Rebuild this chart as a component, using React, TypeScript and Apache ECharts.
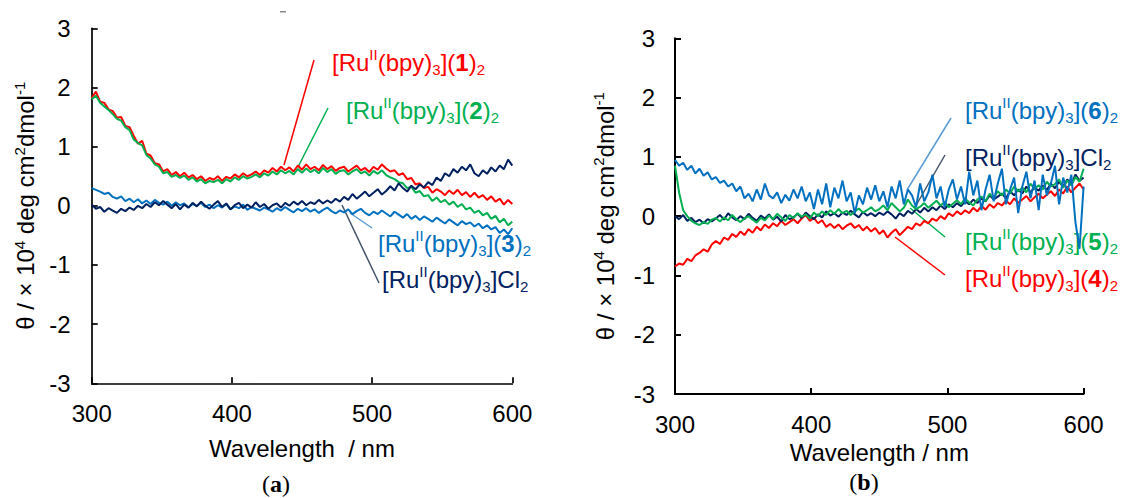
import React, { useEffect, useRef } from "react";
import * as echarts from "echarts";

// Wavelength grid (nm)
const wavelengths = [
  300, 303, 306, 309, 312, 315, 318, 321, 324, 327,
  330, 333, 336, 339, 342, 345, 348, 351, 354, 357,
  360, 363, 366, 369, 372, 375, 378, 381, 384, 387,
  390, 393, 396, 399, 402, 405, 408, 411, 414, 417,
  420, 423, 426, 429, 432, 435, 438, 441, 444, 447,
  450, 453, 456, 459, 462, 465, 468, 471, 474, 477,
  480, 483, 486, 489, 492, 495, 498, 501, 504, 507,
  510, 513, 516, 519, 522, 525, 528, 531, 534, 537,
  540, 543, 546, 549, 552, 555, 558, 561, 564, 567,
  570, 573, 576, 579, 582, 585, 588, 591, 594, 597,
  600,
];

// Panel (a)
const a_Ru1 = [
  1.82, 1.93, 1.76, 1.74, 1.63, 1.6, 1.49, 1.5, 1.35, 1.33,
  1.18, 1.05, 1.1, 0.88, 0.85, 0.72, 0.7, 0.58, 0.62, 0.52,
  0.57, 0.5, 0.56, 0.48, 0.52, 0.45, 0.5, 0.42, 0.47, 0.44,
  0.5, 0.42, 0.49, 0.46, 0.53, 0.48, 0.55, 0.5, 0.53, 0.58,
  0.52, 0.6, 0.56, 0.64, 0.58, 0.66, 0.6, 0.65, 0.58, 0.68,
  0.61, 0.7, 0.62, 0.66, 0.6, 0.69, 0.62, 0.67, 0.59, 0.64,
  0.66, 0.58, 0.63, 0.68, 0.6, 0.64, 0.57, 0.66, 0.61, 0.7,
  0.63, 0.58, 0.6, 0.52, 0.55, 0.45, 0.47, 0.36, 0.38, 0.3,
  0.32, 0.22, 0.28, 0.24, 0.18, 0.26, 0.2, 0.27, 0.18, 0.23,
  0.15, 0.22, 0.14, 0.18, 0.1, 0.16, 0.07, 0.12, 0.02, 0.1,
  0.03,
];
const a_Ru2 = [
  1.8, 1.86, 1.74, 1.68, 1.62, 1.55, 1.47, 1.44, 1.33, 1.28,
  1.12, 1.06, 1.02, 0.86, 0.8, 0.7, 0.66, 0.55, 0.57, 0.49,
  0.52, 0.47, 0.51, 0.44, 0.48, 0.41, 0.45, 0.38, 0.42, 0.4,
  0.44, 0.38, 0.45, 0.41, 0.48, 0.44, 0.5, 0.46, 0.49, 0.53,
  0.48, 0.55, 0.51, 0.58, 0.53, 0.6, 0.55, 0.59, 0.53, 0.62,
  0.56, 0.63, 0.57, 0.61, 0.55, 0.64, 0.57, 0.62, 0.54, 0.59,
  0.6, 0.53, 0.58, 0.62, 0.55, 0.58, 0.51, 0.59, 0.54, 0.6,
  0.52, 0.48, 0.45, 0.4, 0.38, 0.3, 0.32, 0.22, 0.25, 0.16,
  0.18, 0.08, 0.14, 0.06, 0.1, 0.02, 0.07, -0.02, 0.03, -0.06,
  -0.03, -0.12, -0.08, -0.16, -0.12, -0.22, -0.17, -0.28, -0.22, -0.33,
  -0.27,
];
const a_Ru3 = [
  0.3, 0.27, 0.24, 0.2, 0.22, 0.15, 0.12, 0.16, 0.08, 0.12,
  0.06, 0.11, 0.04, 0.09, 0.03, 0.1, 0.05, 0.02, 0.07, 0.0,
  0.06, 0.01, 0.04, -0.03, 0.03, 0.0, 0.05, -0.02, 0.02, -0.04,
  0.01, -0.03, 0.03, -0.06, -0.01, -0.04, 0.02, -0.07, -0.02, -0.05,
  -0.08, -0.03, -0.06, -0.1, -0.04, -0.08, -0.02, -0.07, -0.11, -0.05,
  -0.09, -0.04, -0.1, -0.06, -0.12, -0.07, -0.03, -0.09, -0.13, -0.08,
  -0.11, -0.06, -0.14, -0.09, -0.05, -0.12, -0.16, -0.1, -0.14, -0.08,
  -0.13, -0.18, -0.1, -0.15, -0.2, -0.14, -0.22, -0.17, -0.24, -0.18,
  -0.22, -0.27, -0.2, -0.25, -0.3, -0.23, -0.28, -0.33, -0.26, -0.31,
  -0.28, -0.35, -0.3, -0.38, -0.33, -0.4, -0.36, -0.46, -0.4, -0.48,
  -0.38,
];
const a_RuCl2 = [
  0.02, -0.05, -0.02, -0.1, -0.04, -0.08, -0.12, -0.05, -0.09, -0.03,
  -0.07, 0.0, -0.04, 0.03, -0.02, 0.06, 0.01, 0.08, 0.02, -0.04,
  0.03, -0.06, 0.02, -0.03, 0.05, -0.01, 0.07, 0.0, -0.05, 0.02,
  0.08, -0.02, 0.04, -0.06, 0.01, 0.05, -0.04, 0.02, -0.03, 0.06,
  -0.02, 0.03, -0.05, 0.01, 0.04, -0.03, 0.05, 0.0, 0.07, 0.02,
  0.08, 0.01, 0.06, 0.03, 0.1, 0.04, 0.09, 0.05, 0.12, 0.07,
  0.15, 0.1, 0.2, 0.12, 0.18, 0.24, 0.16, 0.22, 0.28, 0.19,
  0.25, 0.33, 0.26, 0.38, 0.3, 0.24, 0.34, 0.28, 0.36, 0.31,
  0.4, 0.35, 0.48, 0.42, 0.55, 0.5, 0.62, 0.56, 0.66, 0.6,
  0.7, 0.55, 0.5, 0.6, 0.54, 0.65, 0.58, 0.68, 0.62, 0.78,
  0.68,
];

// Panel (b)
const b_Ru4 = [
  -0.85, -0.8, -0.82, -0.72, -0.76, -0.66, -0.62, -0.56, -0.6, -0.48,
  -0.42, -0.47, -0.36, -0.4, -0.3, -0.35, -0.26, -0.32, -0.22, -0.28,
  -0.18, -0.24, -0.14, -0.2, -0.12, -0.17, -0.08, -0.15, -0.1, -0.05,
  -0.12, -0.04, 0.02, -0.08, -0.03, -0.12, -0.07, -0.18, -0.13, -0.2,
  -0.14, -0.22, -0.16, -0.12, -0.2, -0.15, -0.24, -0.18, -0.26, -0.2,
  -0.3, -0.24, -0.36, -0.28, -0.22, -0.32, -0.25, -0.18, -0.22, -0.12,
  -0.16, -0.08, -0.12, -0.04, -0.08, 0.0, -0.05, 0.05, 0.0, 0.08,
  0.03, 0.1, 0.05, 0.14, 0.08, 0.17, 0.11, 0.2, 0.14, 0.22,
  0.18, 0.26, 0.2, 0.3, 0.22, 0.28, 0.34, 0.25, 0.32, 0.38,
  0.3, 0.36, 0.42, 0.34, 0.45, 0.38, 0.5, 0.4, 0.48, 0.55,
  0.45,
];
const b_Ru5 = [
  0.85, 0.4, 0.1, 0.0, -0.08, -0.12, -0.15, -0.1, -0.13, -0.06,
  -0.03, -0.09, -0.02, -0.07, 0.02, -0.05, -0.1, -0.04, 0.0, -0.06,
  -0.11, -0.03, -0.07, 0.01, -0.05, 0.04, -0.02, -0.08, 0.02, -0.03,
  0.05, -0.01, 0.03, -0.04, 0.06, 0.0, 0.08, 0.02, 0.1, 0.04,
  0.12, 0.05, 0.09, 0.02, 0.08, 0.13, 0.06, 0.1, 0.15, 0.08,
  0.12, 0.18, 0.1, 0.22, 0.15, 0.08, 0.14, 0.28, 0.18, 0.12,
  0.16, 0.22, 0.14, 0.2, 0.26, 0.18, 0.24, 0.15, 0.21, 0.27,
  0.2, 0.3, 0.23, 0.18, 0.28, 0.33, 0.25, 0.38, 0.3, 0.42,
  0.35, 0.45, 0.38, 0.5, 0.42, 0.48, 0.4, 0.55, 0.46, 0.52,
  0.45, 0.58, 0.5, 0.54, 0.62, 0.48, 0.6, 0.52, 0.66, 0.58,
  0.8,
];
const b_Ru6 = [
  0.95, 0.85, 0.9, 0.78, 0.85, 0.72, 0.8, 0.68, 0.74, 0.62,
  0.66, 0.56, 0.6, 0.5, 0.55, 0.42, 0.5, 0.3, 0.38, 0.25,
  0.45, 0.28, 0.55, 0.35, 0.3, 0.4, 0.22, 0.36, 0.26, 0.45,
  0.3, 0.5, 0.25, 0.4, 0.12, 0.45, 0.2, 0.55, 0.15, 0.48,
  0.3, 0.6, 0.25, 0.4, 0.05, 0.35, 0.2, 0.48, 0.28, 0.52,
  0.25, 0.42, 0.15, 0.5, 0.3, 0.6, 0.2, 0.45, 0.35, 0.15,
  0.55, 0.25, 0.4, 0.7, 0.3, 0.5, 0.15, 0.45, 0.62, 0.28,
  0.5, 0.2, 0.75, 0.35, 0.6, 0.1, 0.45, 0.7, 0.25, 0.55,
  0.8, 0.2, 0.45, 0.65, 0.05, 0.5, 0.75, 0.3, 0.6, 0.1,
  0.7, 0.35, 0.55, 0.85, 0.2, 0.65, 0.4, 0.7, -0.1, -0.55,
  0.5,
];
const b_RuCl2 = [
  0.0, -0.05, 0.02, -0.08, -0.03, -0.1, -0.06, -0.12, -0.05, -0.09,
  -0.04, 0.02, -0.06, 0.05, -0.02, -0.07, 0.0, -0.05, 0.04, -0.03,
  -0.08, 0.01, -0.04, 0.03, -0.06, -0.01, -0.09, 0.02, -0.05, -0.02,
  0.04, -0.03, 0.06, 0.0, -0.05, 0.03, -0.02, 0.08, 0.01, 0.05,
  -0.01, 0.06, 0.02, 0.09, 0.03, -0.02, 0.07, 0.01, 0.05, 0.0,
  0.06, 0.02, 0.08, 0.03, -0.04, 0.05, 0.0, 0.09, 0.04, 0.12,
  0.06, 0.14, 0.08, 0.15, 0.1, 0.18, 0.12, 0.2, 0.15, 0.22,
  0.17, 0.25, 0.2, 0.28, 0.22, 0.3, 0.25, 0.35, 0.28, 0.33,
  0.38, 0.3, 0.42, 0.35, 0.45, 0.38, 0.5, 0.4, 0.48, 0.43,
  0.52, 0.44, 0.55, 0.47, 0.58, 0.5, 0.62, 0.53, 0.7, 0.6,
  0.65,
];

const xRange = [300, 600];
const yRange = [-3, 3];

const RED = "#FF0000";
const GREEN = "#00B050";
const BLUE = "#0070C0";
const NAVY = "#002060";
const SANS = "'Liberation Sans', Arial, sans-serif";
const SERIF = "'Liberation Serif', 'Times New Roman', serif";

function ruText(num: string | null): string {
  const head = "{n|[Ru}{sup|II}{n|(bpy)}{sub|3}";
  if (num === null) return head + "{n|]Cl}{sub|2}";
  return head + "{n|](}{b|" + num + "}{n|)}{sub|2}";
}

function richFor(color: string) {
  return {
    n: { fontSize: 24, fontFamily: SANS, fill: color, lineHeight: 30 },
    b: { fontSize: 24, fontFamily: SANS, fontWeight: "bold", fill: color, lineHeight: 30 },
    sup: { fontSize: 15, fontFamily: SANS, fill: color, verticalAlign: "top", lineHeight: 15 },
    sub: { fontSize: 15, fontFamily: SANS, fill: color, verticalAlign: "bottom", lineHeight: 15 },
  };
}

function label(x: number, y: number, num: string | null, color: string) {
  return {
    type: "text",
    x,
    y,
    silent: true,
    style: {
      text: ruText(num),
      rich: richFor(color),
      fill: color,
      align: "left",
      verticalAlign: "middle",
    },
  };
}

function leader(x1: number, y1: number, x2: number, y2: number, color: string) {
  return {
    type: "line",
    silent: true,
    shape: { x1, y1, x2, y2 },
    style: { stroke: color, lineWidth: 1.5 },
  };
}

const yNameRich = {
  n: { fontSize: 24, fontFamily: SANS, color: "#000", lineHeight: 28 },
  sup: { fontSize: 15, fontFamily: SANS, color: "#000", verticalAlign: "top", lineHeight: 15 },
};
const yNameText = "{n|θ / × 10}{sup|4}{n| deg cm}{sup|2}{n|dmol}{sup|-1}";

function xAxisOf(idx: number, name: string, nameGap: number, lw: number) {
  return {
    type: "value",
    gridIndex: idx,
    min: xRange[0],
    max: xRange[1],
    interval: 100,
    name,
    nameLocation: "middle",
    nameGap,
    nameTextStyle: { fontSize: 24, fontFamily: SANS, color: "#000" },
    axisLine: { show: true, onZero: false, lineStyle: { color: "#000", width: lw } },
    axisTick: { show: true, inside: true, length: 6, lineStyle: { color: "#000", width: lw } },
    axisLabel: { fontSize: 24, fontFamily: SANS, color: "#000", margin: 18, showMinLabel: true, showMaxLabel: true },
    splitLine: { show: false },
  };
}

function yAxisOf(idx: number, nameGap: number, margin: number, lw: number) {
  return {
    type: "value",
    gridIndex: idx,
    min: yRange[0],
    max: yRange[1],
    interval: 1,
    name: yNameText,
    nameLocation: "middle",
    nameRotate: 90,
    nameGap,
    nameTextStyle: { rich: yNameRich },
    axisLine: { show: true, onZero: false, lineStyle: { color: "#000", width: lw } },
    axisTick: { show: true, inside: true, length: 6, lineStyle: { color: "#000", width: lw } },
    axisLabel: { fontSize: 24, fontFamily: SANS, color: "#000", margin, showMinLabel: true, showMaxLabel: true },
    splitLine: { show: false },
  };
}

function lineSeries(name: string, values: number[], color: string, idx: number) {
  return {
    type: "line",
    name,
    xAxisIndex: idx,
    yAxisIndex: idx,
    data: wavelengths.map((w, i) => [w, values[i]]),
    showSymbol: false,
    symbol: "none",
    silent: true,
    lineStyle: { color, width: 2 },
    itemStyle: { color },
  };
}

export default function App() {
  const ref = useRef<HTMLDivElement>(null);
  useEffect(() => {
    if (!ref.current) return;
    const chart = echarts.init(ref.current, undefined, { renderer: "svg" });
    const option: any = {
      animation: false,
      backgroundColor: "#fff",
      textStyle: { fontFamily: SANS },
      grid: [
        { left: 91.7, top: 28.3, width: 420.6, height: 355, outerBoundsMode: "none" },
        { left: 675, top: 38.3, width: 408.6, height: 355.7, outerBoundsMode: "none" },
      ],
      xAxis: [
        xAxisOf(0, "Wavelength  / nm", 53, 1.7),
        xAxisOf(1, "Wavelength / nm", 41, 2),
      ],
      yAxis: [yAxisOf(0, 52, 21, 1.7), yAxisOf(1, 56, 20, 2)],
      series: [
        lineSeries("[RuII(bpy)3](1)2", a_Ru1, RED, 0),
        lineSeries("[RuII(bpy)3](2)2", a_Ru2, GREEN, 0),
        lineSeries("[RuII(bpy)3](3)2", a_Ru3, BLUE, 0),
        lineSeries("[RuII(bpy)3]Cl2", a_RuCl2, NAVY, 0),
        lineSeries("[RuII(bpy)3](4)2", b_Ru4, RED, 1),
        lineSeries("[RuII(bpy)3]Cl2", b_RuCl2, NAVY, 1),
        lineSeries("[RuII(bpy)3](5)2", b_Ru5, GREEN, 1),
        lineSeries("[RuII(bpy)3](6)2", b_Ru6, BLUE, 1),
      ],
      graphic: [
        { type: "rect", silent: true, shape: { x: 280, y: 11, width: 6, height: 1.5 }, style: { fill: "#888" } },
        // panel (a) annotations
        leader(314, 60, 284, 165, RED),
        leader(328, 108, 298, 167, GREEN),
        leader(350, 213, 372, 228, "#5B9BD5"),
        leader(342, 205, 379, 283, "#44546A"),
        label(332, 62, "1", RED),
        label(346, 110, "2", GREEN),
        label(378, 243, "3", BLUE),
        label(382, 279, null, NAVY),
        // panel (b) annotations
        leader(951, 118, 907, 190, "#5B9BD5"),
        leader(945, 155, 914.5, 208, "#44546A"),
        leader(910, 208, 945, 237, GREEN),
        leader(895, 237, 945, 275, RED),
        label(965, 110, "6", BLUE),
        label(965, 157, null, NAVY),
        label(965, 241, "5", GREEN),
        label(965, 278, "4", RED),
        // panel captions
        {
          type: "text",
          x: 276,
          y: 484,
          silent: true,
          style: {
            text: "{p|(}{a|a}{p|)}",
            rich: {
              p: { fontSize: 24, fontFamily: SERIF, fill: "#000" },
              a: { fontSize: 24, fontFamily: SERIF, fontWeight: "bold", fill: "#000" },
            },
            align: "center",
            verticalAlign: "middle",
          },
        },
        {
          type: "text",
          x: 864,
          y: 482,
          silent: true,
          style: {
            text: "{p|(}{a|b}{p|)}",
            rich: {
              p: { fontSize: 24, fontFamily: SERIF, fill: "#000" },
              a: { fontSize: 24, fontFamily: SERIF, fontWeight: "bold", fill: "#000" },
            },
            align: "center",
            verticalAlign: "middle",
          },
        },
      ],
    };
    chart.setOption(option);
    return () => chart.dispose();
  }, []);
  return (
    <div
      ref={ref}
      style={{ position: "absolute", left: 0, top: 0, width: 1128, height: 498, background: "#fff" }}
    />
  );
}
